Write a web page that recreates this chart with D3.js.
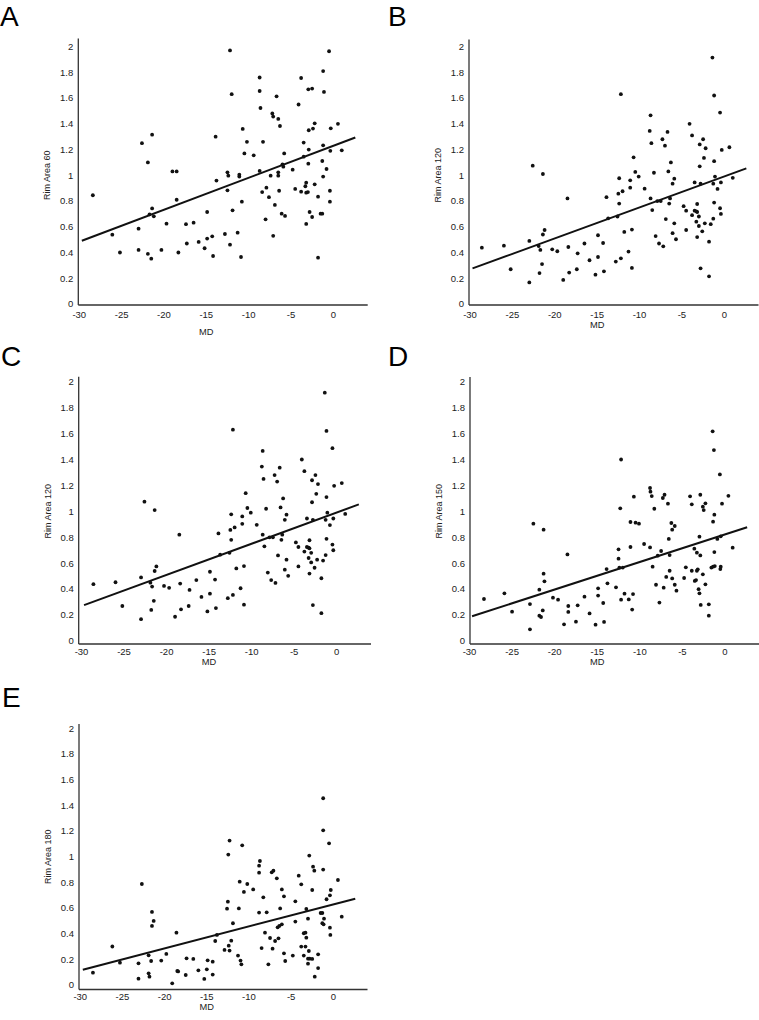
<!DOCTYPE html>
<html>
<head>
<meta charset="utf-8">
<script src="https://cdn.jsdelivr.net/npm/d3@7"></script>
<style>
  html, body { margin: 0; padding: 0; background: #fff; }
  svg { display: block; }
</style>
</head>
<body>
<svg id="chart" width="759" height="1020"></svg>
<script>
// ---------- DATA ----------
const xTicks = [-30, -25, -20, -15, -10, -5, 0];
const yTicks = [0, 0.2, 0.4, 0.6, 0.8, 1, 1.2, 1.4, 1.6, 1.8, 2];
const xTitle = "MD";
const panelLetters = ["A", "B", "C", "D", "E"];
const yTitles = ["Rim Area 60", "Rim Area 120", "Rim Area 120", "Rim Area 150", "Rim Area 180"];

// [MD, rim area] pairs
const ptsA = [[-28.4,0.845],[-26.1,0.539],[-25.2,0.40],[-23.0,0.585],[-23.0,0.42],[-22.6,1.25],[-21.9,1.10],[-21.9,0.389],[-21.7,0.697],[-21.5,0.352],[-21.4,1.316],[-21.4,0.743],[-21.2,0.681],[-20.3,0.42],[-19.7,0.624],[-19.0,1.03],[-18.5,1.03],[-18.5,0.81],[-18.3,0.40],[-17.4,0.62],[-17.3,0.47],[-16.5,0.632],[-15.9,0.482],[-15.2,0.433],[-14.9,0.508],[-14.9,0.715],[-14.3,0.526],[-14.2,0.373],[-13.9,1.30],[-13.8,0.959],[-12.8,0.544],[-12.5,0.883],[-12.5,1.023],[-12.4,0.997],[-12.2,1.97],[-12.2,0.461],[-12.0,1.63],[-11.9,0.728],[-11.3,0.554],[-11.1,1.005],[-11.1,0.99],[-10.9,0.365],[-10.8,0.795],[-10.7,1.36],[-10.5,1.17],[-10.2,1.26],[-9.4,1.155],[-8.7,1.76],[-8.7,1.655],[-8.7,1.034],[-8.6,1.523],[-8.4,0.87],[-8.3,1.26],[-8.0,0.658],[-7.9,0.904],[-7.6,0.83],[-7.4,0.997],[-7.2,1.48],[-7.1,0.53],[-7.1,1.456],[-6.9,0.77],[-6.7,1.614],[-6.5,1.438],[-6.5,1.023],[-6.5,0.997],[-6.4,0.88],[-6.3,1.383],[-6.1,0.702],[-6.0,1.085],[-5.9,1.067],[-5.8,1.17],[-5.7,0.684],[-4.8,1.044],[-4.5,0.894],[-4.1,1.55],[-3.8,1.756],[-3.8,0.873],[-3.5,1.254],[-3.5,1.145],[-3.3,0.915],[-3.2,0.943],[-3.2,0.622],[-3.2,0.865],[-3.0,0.87],[-2.95,1.09],[-2.95,1.668],[-2.9,1.35],[-2.9,1.2],[-2.8,0.715],[-2.5,0.676],[-2.5,1.674],[-2.4,1.363],[-2.2,1.404],[-2.2,0.93],[-1.8,0.36],[-1.8,0.834],[-1.5,0.702],[-1.3,1.111],[-1.3,0.702],[-1.2,1.81],[-1.2,1.233],[-1.2,0.99],[-1.1,1.648],[-0.8,1.049],[-0.5,1.964],[-0.4,0.795],[-0.4,0.88],[-0.35,1.19],[-0.3,1.365],[0.55,1.40],[1.0,1.194]];

const ptsB = [[-28.6,0.438],[-26.0,0.453],[-25.2,0.27],[-23.0,0.49],[-23.0,0.168],[-22.6,1.075],[-21.9,0.45],[-21.8,0.24],[-21.7,0.42],[-21.5,0.31],[-21.4,1.01],[-21.4,0.54],[-21.2,0.575],[-20.3,0.425],[-19.7,0.41],[-19.0,0.187],[-18.5,0.82],[-18.4,0.443],[-18.3,0.244],[-17.4,0.27],[-17.3,0.394],[-16.5,0.47],[-15.9,0.34],[-15.2,0.228],[-14.9,0.534],[-14.9,0.365],[-14.3,0.474],[-14.2,0.254],[-13.9,0.83],[-13.7,0.666],[-12.8,0.33],[-12.6,0.68],[-12.5,0.857],[-12.4,0.977],[-12.4,0.78],[-12.2,1.63],[-12.2,0.355],[-12.0,0.876],[-11.8,0.56],[-11.3,0.407],[-11.1,0.904],[-11.1,0.961],[-10.9,0.28],[-10.9,0.578],[-10.7,1.14],[-10.5,1.026],[-10.1,0.99],[-9.4,0.896],[-8.8,1.345],[-8.7,1.466],[-8.7,0.82],[-8.6,1.25],[-8.5,0.73],[-8.3,1.02],[-8.1,0.528],[-7.9,0.80],[-7.7,0.47],[-7.5,0.80],[-7.3,1.28],[-7.2,0.448],[-7.0,1.23],[-6.9,0.66],[-6.7,1.337],[-6.6,1.03],[-6.5,0.78],[-6.4,0.82],[-6.3,1.10],[-6.1,0.935],[-6.1,0.55],[-5.9,0.627],[-5.9,0.974],[-5.7,0.503],[-4.8,0.76],[-4.5,0.725],[-4.5,0.575],[-4.1,1.40],[-3.8,1.31],[-3.8,0.69],[-3.5,0.945],[-3.5,0.725],[-3.3,0.72],[-3.3,0.64],[-3.2,0.777],[-3.2,0.52],[-3.2,0.715],[-3.0,0.68],[-3.0,0.606],[-2.9,1.07],[-2.9,1.24],[-2.8,0.935],[-2.8,0.277],[-2.6,0.565],[-2.5,1.28],[-2.4,1.135],[-2.3,0.627],[-2.2,1.21],[-1.8,0.484],[-1.8,0.215],[-1.6,0.62],[-1.4,1.915],[-1.3,0.935],[-1.3,0.663],[-1.2,1.62],[-1.2,1.11],[-1.2,0.788],[-1.1,0.99],[-0.8,0.894],[-0.5,1.487],[-0.5,0.744],[-0.4,0.945],[-0.4,0.70],[-0.3,1.197],[0.6,1.218],[1.0,0.98]];

const ptsC = ptsB;

const ptsD = [[-28.3,0.324],[-25.9,0.368],[-25.0,0.226],[-22.9,0.285],[-22.9,0.09],[-22.5,0.905],[-21.8,0.396],[-21.8,0.195],[-21.6,0.185],[-21.4,0.236],[-21.3,0.859],[-21.3,0.519],[-21.2,0.46],[-20.2,0.334],[-19.6,0.319],[-18.9,0.129],[-18.5,0.668],[-18.4,0.27],[-18.4,0.224],[-17.5,0.149],[-17.3,0.275],[-16.5,0.342],[-15.9,0.213],[-15.2,0.126],[-14.9,0.406],[-14.9,0.35],[-14.3,0.293],[-14.2,0.147],[-13.9,0.555],[-13.8,0.445],[-12.8,0.414],[-12.5,0.635],[-12.5,0.707],[-12.3,1.023],[-12.4,0.566],[-12.2,1.40],[-12.2,0.319],[-12.0,0.566],[-11.8,0.365],[-11.3,0.321],[-11.1,0.725],[-11.1,0.918],[-10.9,0.242],[-10.8,0.362],[-10.7,1.113],[-10.5,0.913],[-10.1,0.905],[-9.5,0.748],[-8.8,1.18],[-8.75,1.152],[-8.8,0.722],[-8.6,1.118],[-8.5,0.573],[-8.3,1.02],[-8.1,0.434],[-7.9,0.658],[-7.7,0.296],[-7.5,0.694],[-7.3,1.103],[-7.2,0.411],[-7.1,1.128],[-6.9,0.494],[-6.7,1.059],[-6.6,0.787],[-6.5,0.663],[-6.5,0.542],[-6.3,0.91],[-6.2,0.859],[-6.2,0.483],[-5.9,0.434],[-5.9,0.887],[-5.7,0.388],[-4.8,0.486],[-4.6,0.568],[-4.1,1.116],[-3.9,1.054],[-3.9,0.542],[-3.6,0.712],[-3.55,0.463],[-3.4,0.47],[-3.3,0.542],[-3.3,0.681],[-3.2,0.553],[-3.1,0.40],[-3.0,0.368],[-3.0,0.805],[-2.9,1.128],[-2.9,0.66],[-2.85,0.278],[-2.6,0.514],[-2.6,1.036],[-2.5,1.01],[-2.3,0.437],[-2.3,1.062],[-1.9,0.283],[-1.9,0.195],[-1.6,0.566],[-1.45,1.617],[-1.4,0.92],[-1.4,0.573],[-1.3,1.473],[-1.25,0.974],[-1.25,0.686],[-1.2,0.578],[-0.9,0.787],[-0.6,1.285],[-0.55,0.555],[-0.5,0.573],[-0.35,1.059],[-0.5,0.807],[0.4,1.12],[0.9,0.72]];

const ptsE = [[-28.5,0.096],[-26.2,0.30],[-25.3,0.174],[-23.1,0.169],[-23.1,0.049],[-22.7,0.787],[-21.9,0.231],[-21.9,0.091],[-21.8,0.065],[-21.6,0.187],[-21.5,0.569],[-21.5,0.46],[-21.3,0.499],[-20.4,0.19],[-19.8,0.242],[-19.1,0.013],[-18.6,0.408],[-18.5,0.109],[-18.4,0.106],[-17.5,0.078],[-17.4,0.208],[-16.6,0.203],[-16.0,0.114],[-15.3,0.047],[-15.0,0.122],[-14.9,0.192],[-14.3,0.081],[-14.3,0.182],[-14.0,0.343],[-13.8,0.39],[-12.9,0.273],[-12.6,0.595],[-12.5,0.649],[-12.45,1.016],[-12.4,0.306],[-12.3,1.125],[-12.3,0.268],[-12.1,0.345],[-11.9,0.481],[-11.3,0.229],[-11.2,0.597],[-11.1,0.805],[-11.0,0.19],[-10.9,0.161],[-10.8,1.088],[-10.6,0.725],[-10.2,0.787],[-9.5,0.745],[-8.8,0.93],[-8.7,0.966],[-8.8,0.875],[-8.8,0.564],[-8.5,0.288],[-8.3,0.683],[-8.1,0.408],[-7.9,0.566],[-7.7,0.161],[-7.5,0.366],[-7.3,0.878],[-7.2,0.283],[-7.1,0.891],[-6.9,0.343],[-6.7,0.831],[-6.6,0.449],[-6.5,0.364],[-6.4,0.46],[-6.3,0.597],[-6.1,0.473],[-6.1,0.745],[-5.85,0.691],[-5.85,0.247],[-5.7,0.187],[-4.8,0.229],[-4.5,0.652],[-4.5,0.494],[-4.1,0.852],[-3.8,0.784],[-3.8,0.299],[-3.5,0.229],[-3.5,0.403],[-3.3,0.408],[-3.3,0.299],[-3.2,0.369],[-3.2,0.592],[-3.0,0.166],[-3.0,0.517],[-3.0,0.205],[-2.9,0.265],[-2.85,1.008],[-2.8,0.205],[-2.5,0.203],[-2.5,0.74],[-2.4,0.922],[-2.25,0.891],[-2.2,0.065],[-1.8,0.239],[-1.8,0.132],[-1.5,0.561],[-1.3,0.561],[-1.3,0.481],[-1.2,1.455],[-1.2,0.899],[-1.2,1.205],[-1.15,0.473],[-1.1,0.517],[-0.8,0.668],[-0.5,1.104],[-0.4,0.447],[-0.4,0.699],[-0.35,0.39],[-0.3,0.74],[0.55,0.818],[1.0,0.532]];

// regression lines: [intercept, slope], drawn over fitRange of MD
const fitA = [1.229, 0.02484];
const fitB = [0.991, 0.02405];
const fitC = fitB;
const fitD = [0.822, 0.02125];
const fitE = [0.628, 0.01713];
const fitRange = [-29.7, 2.6];

// ---------- LAYOUT ----------
const layout = [
  {pts: ptsA, fit: fitA, lx:[79.3,333.3], ax:[78.3,367.7], ly:[304,46.6], ay:[305,38.5], letterXY:[0,26], tickOff:10, mdOff:26.5},
  {pts: ptsB, fit: fitB, lx:[470,724.3], ax:[469,758.5], ly:[304,46.6], ay:[305,39.5], letterXY:[388,26], tickOff:10, mdOff:20},
  {pts: ptsC, fit: fitC, lx:[81.5,336.7], ax:[78.7,371], ly:[641,381.7], ay:[644,376.7], letterXY:[1,366], tickOff:8, mdOff:18},
  {pts: ptsD, fit: fitD, lx:[469.5,725], ax:[470,759], ly:[641,381.7], ay:[644,377], letterXY:[388,366], tickOff:7.5, mdOff:17.5},
  {pts: ptsE, fit: fitE, lx:[80.3,333.3], ax:[79,367.5], ly:[985,728.3], ay:[989.5,724], letterXY:[2,707], tickOff:7, mdOff:17.5}
];

const svg = d3.select("#chart");
const FONT = "'Liberation Sans', Arial, Helvetica, sans-serif";
const TXT = "#222";

layout.forEach((p, i) => {
  const x = d3.scaleLinear().domain([-30, 0]).range(p.lx);
  const y = d3.scaleLinear().domain([0, 2]).range(p.ly);
  const g = svg.append("g");

  svg.append("text")
    .attr("x", p.letterXY[0]).attr("y", p.letterXY[1])
    .attr("font-family", FONT).attr("font-size", 28)
    .attr("fill", "#000")
    .text(panelLetters[i]);

  const x0 = p.ax[0], x1 = p.ax[1], yb = p.ay[0], yt = p.ay[1];
  g.append("line").attr("x1", x0).attr("x2", x0).attr("y1", yt).attr("y2", yb)
    .attr("stroke", "#333").attr("stroke-width", 1.3);
  g.append("line").attr("x1", x0).attr("x2", x1).attr("y1", yb).attr("y2", yb)
    .attr("stroke", "#333").attr("stroke-width", 1.3);

  g.selectAll(".yt").data(yTicks).enter().append("text")
    .attr("x", x0 - 5).attr("y", d => y(d)).attr("dy", "0.35em")
    .attr("text-anchor", "end")
    .attr("font-family", FONT).attr("font-size", 9.5).attr("fill", TXT)
    .text(d => d3.format("~g")(d));

  g.selectAll(".xt").data(xTicks).enter().append("text")
    .attr("x", d => x(d)).attr("y", yb + p.tickOff).attr("dy", "0.35em")
    .attr("text-anchor", "middle")
    .attr("font-family", FONT).attr("font-size", 9.5).attr("fill", TXT)
    .text(d => d);

  g.append("text")
    .attr("x", x(-15)).attr("y", yb + p.mdOff).attr("dy", "0.35em")
    .attr("text-anchor", "middle")
    .attr("font-family", FONT).attr("font-size", 9.3).attr("fill", TXT)
    .text(xTitle);

  g.append("text")
    .attr("transform", `translate(${x0 - 31},${y(1)}) rotate(-90)`)
    .attr("dy", "0.35em")
    .attr("text-anchor", "middle")
    .attr("font-family", FONT).attr("font-size", 9).attr("fill", TXT)
    .text(yTitles[i]);

  g.selectAll("circle").data(p.pts).enter().append("circle")
    .attr("cx", d => x(d[0])).attr("cy", d => y(d[1]))
    .attr("r", 1.9).attr("fill", "#111");

  const line = d3.line().x(d => x(d)).y(d => y(p.fit[0] + p.fit[1] * d));
  g.append("path").datum(fitRange).attr("d", line)
    .attr("fill", "none").attr("stroke", "#111").attr("stroke-width", 2);
});
</script>
</body>
</html>
